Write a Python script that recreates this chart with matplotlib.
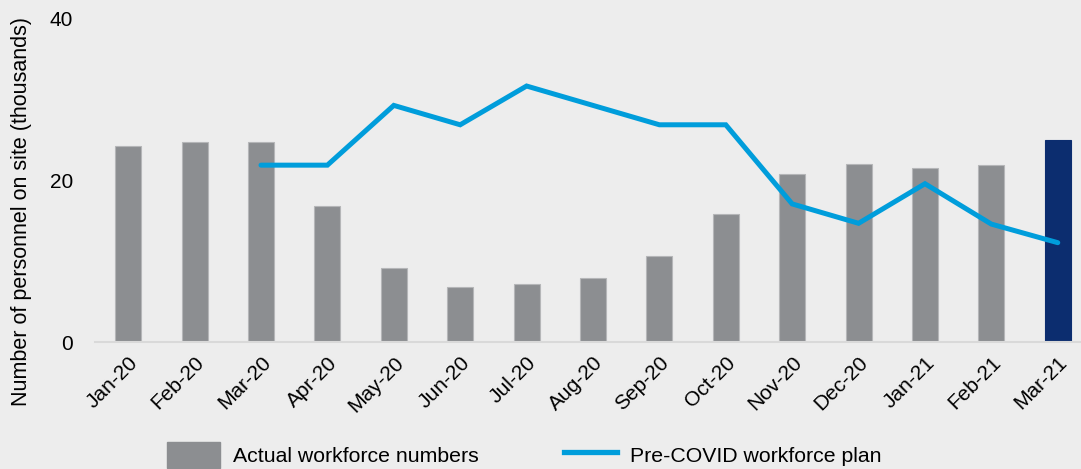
import matplotlib.pyplot as plt
import numpy as np
from matplotlib.patches import Patch
from matplotlib.lines import Line2D

plt.rcParams["font.family"] = ["Liberation Sans", "DejaVu Sans"]

# Дані
months = ["Jan-20", "Feb-20", "Mar-20", "Apr-20", "May-20", "Jun-20", "Jul-20",
          "Aug-20", "Sep-20", "Oct-20", "Nov-20", "Dec-20", "Jan-21", "Feb-21", "Mar-21"]
actual = [24.3, 24.8, 24.8, 16.9, 9.2, 6.8, 7.2, 7.9, 10.7, 15.9, 20.8, 22.0, 21.6, 21.9, 25.0]
plan_months = months[2:]
plan = [21.9, 21.9, 29.3, 26.9, 31.7, 29.3, 26.9, 26.9, 17.1, 14.7, 19.6, 14.6, 12.3]

bg = "#ededed"
bar_grey = "#8c8e91"
bar_navy = "#0c2d6f"
line_blue = "#009ddb"

fig = plt.figure(figsize=(10.81, 4.69), dpi=100, facecolor=bg)
ax = fig.add_axes([95 / 1081, 1 - 342 / 469, 1 - 95 / 1081, (342 - 19) / 469])
ax.set_facecolor(bg)

x = np.arange(len(months))
colors = [bar_grey] * (len(months) - 1) + [bar_navy]
edges = ["#b5b6b8"] * (len(months) - 1) + [bar_navy]
ax.bar(x, actual, width=0.39, color=colors, edgecolor=edges, linewidth=0.8, zorder=2)

px = [months.index(m) for m in plan_months]
ax.plot(px, plan, color=line_blue, linewidth=3.6, solid_capstyle="round",
        solid_joinstyle="miter", zorder=3)

ax.set_xlim(-0.5, 14.35)
ax.set_ylim(0, 40)
ax.set_yticks([0, 20, 40])
ax.set_xticks(x)
ax.set_xticklabels(months, rotation=45, ha="right", rotation_mode="anchor")
ax.tick_params(axis="both", length=0, labelsize=15, colors="black")
ax.tick_params(axis="x", pad=8)
ax.tick_params(axis="y", pad=16)

for s in ["top", "right", "left"]:
    ax.spines[s].set_visible(False)
ax.spines["bottom"].set_color("#d9d9d9")
ax.spines["bottom"].set_linewidth(1.5)

ax.set_ylabel("Number of personnel on site (thousands)", fontsize=15.5)
ax.yaxis.set_label_coords(-63 / 986, 0.405)

handles = [Patch(facecolor=bar_grey, edgecolor=bar_grey),
           Line2D([0], [0], color=line_blue, linewidth=3.8)]
fig.legend(handles, ["Actual workforce numbers", "Pre-COVID workforce plan"],
           loc="center", bbox_to_anchor=(0.485, 0.03), ncol=2, frameon=False,
           fontsize=15.3, handlelength=2.5, handleheight=1.5, columnspacing=4.0,
           handletextpad=0.6)

fig.savefig("out.png", dpi=100, facecolor=bg)
